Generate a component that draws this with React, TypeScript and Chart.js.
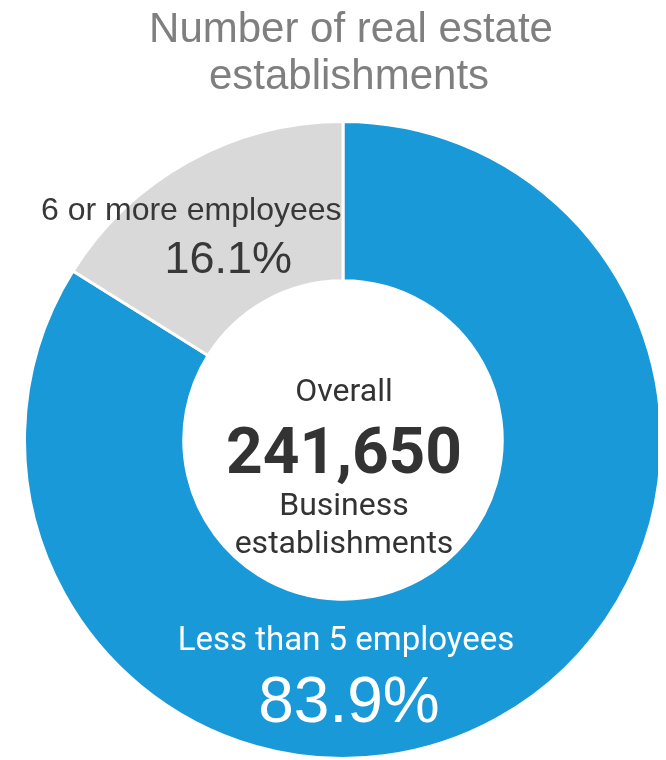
import React, { useEffect, useRef } from 'react';
import { Chart, registerables } from 'chart.js';

Chart.register(...registerables);

const titleLines = ['Number of real estate', 'establishments'];
const categories = ['Less than 5 employees', '6 or more employees'];
const shares = [83.9, 16.1];
const shareLabels = ['83.9%', '16.1%'];
const centerLines = ['Overall', '241,650', 'Business', 'establishments'];
const colors = ['#1999d8', '#d9d9d9'];

const labelPlugin = {
  id: 'donutLabels',
  afterDatasetsDraw(chart: any) {
    const { ctx } = chart;
    const meta = chart.getDatasetMeta(0);
    const a0 = meta.data[0] as any;
    const a1 = meta.data[1] as any;
    const cx = a0.x;
    const cy = a0.y;
    const midR = (a0.innerRadius + a0.outerRadius) / 2;
    ctx.save();
    ctx.textAlign = 'center';
    ctx.textBaseline = 'alphabetic';

    // title (two lines, slightly right of the ring centre)
    ctx.fillStyle = '#7f7f7f';
    ctx.font = '42px "Liberation Sans", Arial';
    ctx.fillText(titleLines[0], cx + 8, 42);
    ctx.fillText(titleLines[1], cx + 6, 89);

    // centre text
    ctx.fillStyle = '#333333';
    ctx.font = '32px Roboto';
    ctx.fillText(centerLines[0], cx + 1, cy - 39);
    ctx.font = 'bold 64px Roboto';
    ctx.fillText(centerLines[1], cx + 1, cy + 33);
    ctx.font = '32px Roboto';
    ctx.fillText(centerLines[2], cx + 1, cy + 75);
    ctx.fillText(centerLines[3], cx + 1, cy + 113);

    // small segment label at its centre point
    const p = a1.getCenterPoint();
    ctx.fillStyle = '#383838';
    ctx.font = '32px "Liberation Sans", Arial';
    ctx.fillText(categories[1], p.x - 36, p.y - 11);
    ctx.font = '45px "Liberation Sans", Arial';
    ctx.fillText(shareLabels[1], p.x + 1, p.y + 42);

    // large segment label at bottom of ring
    const bx = cx;
    const by = cy + midR;
    ctx.fillStyle = '#ffffff';
    ctx.font = '33px Roboto';
    ctx.fillText(categories[0], bx + 3, by - 29);
    ctx.font = '64px "Liberation Sans", Arial';
    ctx.fillText(shareLabels[0], bx + 6, by + 43);
    ctx.restore();
  },
};

export default function App() {
  const canvasRef = useRef<HTMLCanvasElement | null>(null);

  useEffect(() => {
    if (!canvasRef.current) return;
    const chart = new Chart(canvasRef.current, {
      type: 'doughnut',
      data: {
        labels: categories,
        datasets: [
          {
            data: shares,
            backgroundColor: colors,
            borderColor: '#ffffff',
            borderWidth: 3,
          },
        ],
      },
      options: {
        animation: false,
        responsive: true,
        maintainAspectRatio: false,
        events: [],
        cutout: '50%',
        rotation: 0,
        layout: { padding: { left: 23, right: 3, top: 120, bottom: 0 } },
        plugins: {
          legend: { display: false },
          tooltip: { enabled: false },
          title: { display: false },
        },
      },
      plugins: [labelPlugin],
    });
    return () => chart.destroy();
  }, []);

  return (
    <div style={{ position: 'relative', width: 666, height: 760, margin: '-8px 0 0 -8px' }}>
      <canvas ref={canvasRef} />
    </div>
  );
}
